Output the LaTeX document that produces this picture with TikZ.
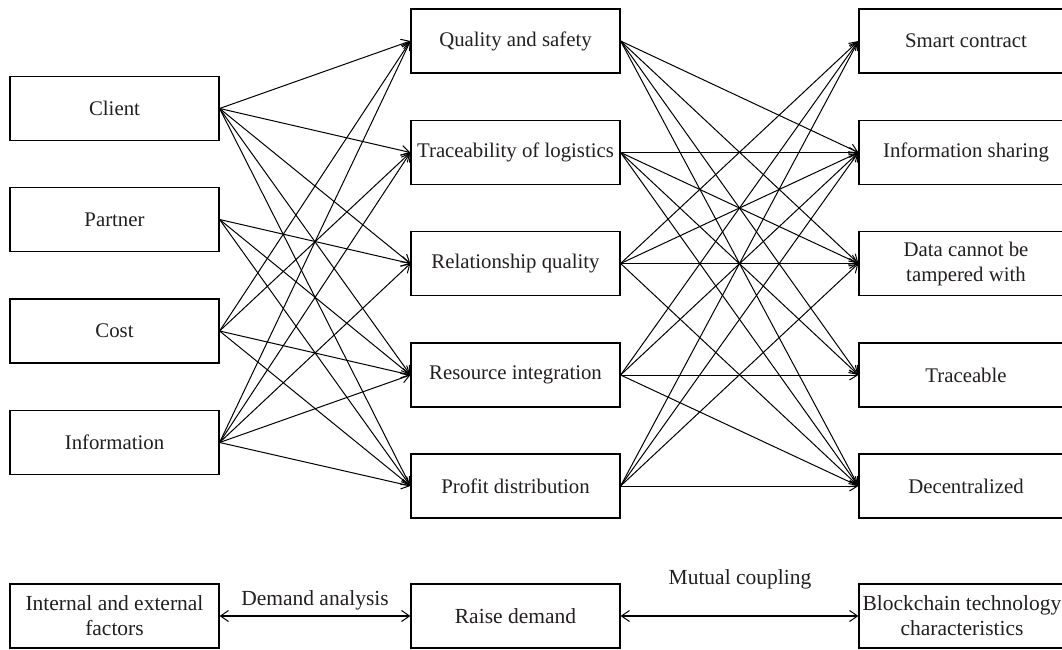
\documentclass[tikz,border=0pt]{standalone}
\usepackage{fontspec}
\setmainfont{Liberation Serif}
\usetikzlibrary{arrows.meta}
\definecolor{textc}{RGB}{35,31,32}
\begin{document}
\begin{tikzpicture}[x=1pt,y=-1pt,
  box/.style={draw=black, line width=1.2pt, minimum width=209pt, minimum height=64pt,
    inner sep=0pt, align=center, font=\fontsize{20.8}{25}\selectfont, text=textc},
  rbox/.style={box, minimum width=214pt},
  link/.style={line width=1pt, -{Straight Barb[length=8pt,width=10pt,line width=1pt]}},
  both/.style={line width=1.3pt, {Straight Barb[length=8pt,width=11pt,line width=1pt]}-{Straight Barb[length=8pt,width=11pt,line width=1pt]}},
  lab/.style={anchor=base, inner sep=0pt, font=\fontsize{21.5}{25}\selectfont, text=textc}]
\useasboundingbox (0,0) rectangle (1062,650);
\fill[white] (0,0) rectangle (1062,650);
% left column
\node[box] (cl) at (114.5,108.5) {Client};
\node[box] (pa) at (114.5,219.5) {Partner};
\node[box] (co) at (114.5,331) {Cost};
\node[box] (in) at (114.5,442.5) {Information};
% middle column
\node[box] (qs) at (515.5,41) {Quality and safety};
\node[box] (tl) at (515.5,152.5) {Traceability of logistics};
\node[box] (rq) at (515.5,263.5) {Relationship quality};
\node[box] (ri) at (515.5,375) {Resource integration};
\node[box] (pd) at (515.5,486) {Profit distribution};
% right column
\node[rbox] (sc) at (966,41) {Smart contract};
\node[rbox] (is) at (966,152.5) {Information sharing};
\node[rbox] (dt) at (966,263.5) {Data cannot be\\tampered with};
\node[rbox] (tr) at (966,375) {Traceable};
\node[rbox] (dc) at (966,486) {Decentralized};
% bottom row
\node[box, font=\fontsize{21.5}{25}\selectfont] (ie) at (114.5,616) {Internal and external\\factors};
\node[box, font=\fontsize{21.5}{25}\selectfont] (rd) at (515.5,616) {Raise demand};
\node[rbox, minimum width=206pt, font=\fontsize{21.5}{25}\selectfont] (bc) at (962,616) {Blockchain technology\\characteristics};
% left -> middle
\foreach \s/\t in {cl/qs, cl/tl, cl/rq, cl/ri, cl/pd,
                   pa/rq, pa/ri, pa/pd,
                   co/qs, co/tl, co/ri, co/pd,
                   in/qs, in/tl, in/rq, in/ri, in/pd}
  \draw[link] (\s.east) -- (\t.west);
% middle -> right
\foreach \s/\t in {qs/is, qs/dt, qs/tr, qs/dc,
                   tl/is, tl/dt, tl/tr, tl/dc,
                   rq/sc, rq/is, rq/dt, rq/dc,
                   ri/sc, ri/is, ri/tr, ri/dc,
                   pd/sc, pd/is, pd/dt, pd/dc}
  \draw[link] (\s.east) -- (\t.west);
% bottom
\draw[both] (ie.east) -- (rd.west);
\draw[both] (rd.east) -- (bc.west);
\node[lab] (da) at (315,605) {Demand analysis};
\node[lab] (mc) at (740,584) {Mutual coupling};
\end{tikzpicture}
\end{document}
